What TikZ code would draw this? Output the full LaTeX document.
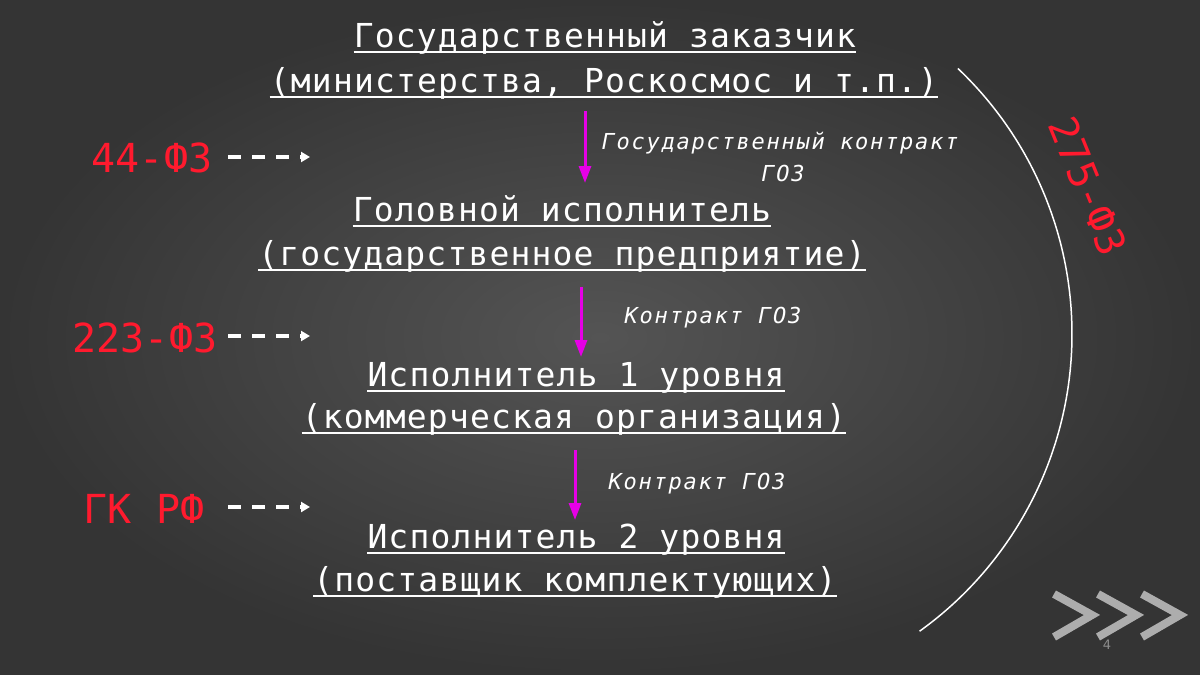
\documentclass[tikz,border=0pt]{standalone}
\usepackage{fontspec}
\setmainfont{DejaVu Sans}
\newfontfamily\mono{DejaVu Sans Mono}[LetterSpace=3.5]
\newfontfamily\monoit{DejaVu Sans Mono}[LetterSpace=8]
\newfontfamily\monored{DejaVu Sans Mono}
\usetikzlibrary{arrows.meta}
\definecolor{bgin}{HTML}{545454}
\definecolor{bgout}{HTML}{343434}
\definecolor{mag}{HTML}{E600E6}
\definecolor{lawred}{HTML}{FF1A2E}
\definecolor{pgnum}{HTML}{8C8C8C}
\begin{document}
\begin{tikzpicture}[x=1pt,y=-1pt,
  title/.style={inner sep=0pt, anchor=base, text=white, font=\mono\fontsize{33}{38}\selectfont},
  lab/.style={inner sep=0pt, anchor=base, text=white, font=\monoit\itshape\fontsize{22}{26}\selectfont},
  law/.style={inner sep=0pt, anchor=base, text=lawred, font=\monored\fontsize{40}{48}\selectfont},
  uline/.style={white, line width=2.5pt},
  flow/.style={mag, line width=3pt, -{Triangle[length=17pt,width=12pt]}},
  dasharr/.style={white, line width=3.5pt, dash pattern=on 13pt off 11pt, -{Triangle[length=9pt,width=10pt]}},
  chev/.style={white, opacity=0.6, line width=8pt, line join=miter}
]
\useasboundingbox (0,0) rectangle (1200,675);
\shade[inner color=bgin, outer color=bgout] (0,0) rectangle (1200,675);

% blocks
\node[title] (b1a) at (605,47) {Государственный заказчик};
\node[title] (b1b) at (604,92) {(министерства, Роскосмос и т.п.)};
\node[title] (b2a) at (562,221) {Головной исполнитель};
\node[title] (b2b) at (562,265) {(государственное предприятие)};
\node[title] (b3a) at (576,386) {Исполнитель 1 уровня};
\node[title] (b3b) at (574,428) {(коммерческая организация)};
\node[title] (b4a) at (576,548) {Исполнитель 2 уровня};
\node[title] (b4b) at (575,591) {(поставщик комплектующих)};
\foreach \n in {b1a,b1b,b2a,b2b,b3a,b3b,b4a,b4b}
  \draw[uline] ([yshift=-5pt]\n.base west) -- ([yshift=-5pt]\n.base east);

% contract labels
\node[lab] (c1a) at (780,149) {Государственный контракт};
\node[lab] (c1b) at (783,181) {ГОЗ};
\node[lab] (c2) at (713,323) {Контракт ГОЗ};
\node[lab] (c3) at (697,489) {Контракт ГОЗ};

% flow arrows
\coordinate (a1s) at (585,111); \coordinate (a1e) at (585,183);
\coordinate (a2s) at (581,287); \coordinate (a2e) at (581,357);
\coordinate (a3s) at (575,450); \coordinate (a3e) at (575,520);
\draw[flow] (a1s) -- (a1e);
\draw[flow] (a2s) -- (a2e);
\draw[flow] (a3s) -- (a3e);

% law labels
\node[law] (l1) at (152,172) {44-ФЗ};
\node[law] (l2) at (145,352) {223-ФЗ};
\node[law] (l3) at (144,523) {ГК РФ};
\coordinate (d1s) at (228,157); \coordinate (d1e) at (310,157);
\coordinate (d2s) at (228,336); \coordinate (d2e) at (310,336);
\coordinate (d3s) at (228,507); \coordinate (d3e) at (310,507);
\draw[dasharr] (d1s) -- (d1e);
\draw[dasharr] (d2s) -- (d2e);
\draw[dasharr] (d3s) -- (d3e);

% arc and 275-FZ
\coordinate (ac) at (706,334);
\draw[white, line width=1.5pt] (ac) ++(-46.5:366) arc[start angle=-46.5, end angle=54.3, radius=366];
\node[law, anchor=center, rotate=-67.8] (l4) at (1088,186) {275-ФЗ};

% chevrons
\foreach \x in {1054,1098,1142}
  \draw[chev] (\x,594) -- (\x+38,615) -- (\x,637);
\node[text=pgnum, font=\fontsize{13}{15}\selectfont] (pg) at (1107,645) {4};
\end{tikzpicture}
\end{document}
